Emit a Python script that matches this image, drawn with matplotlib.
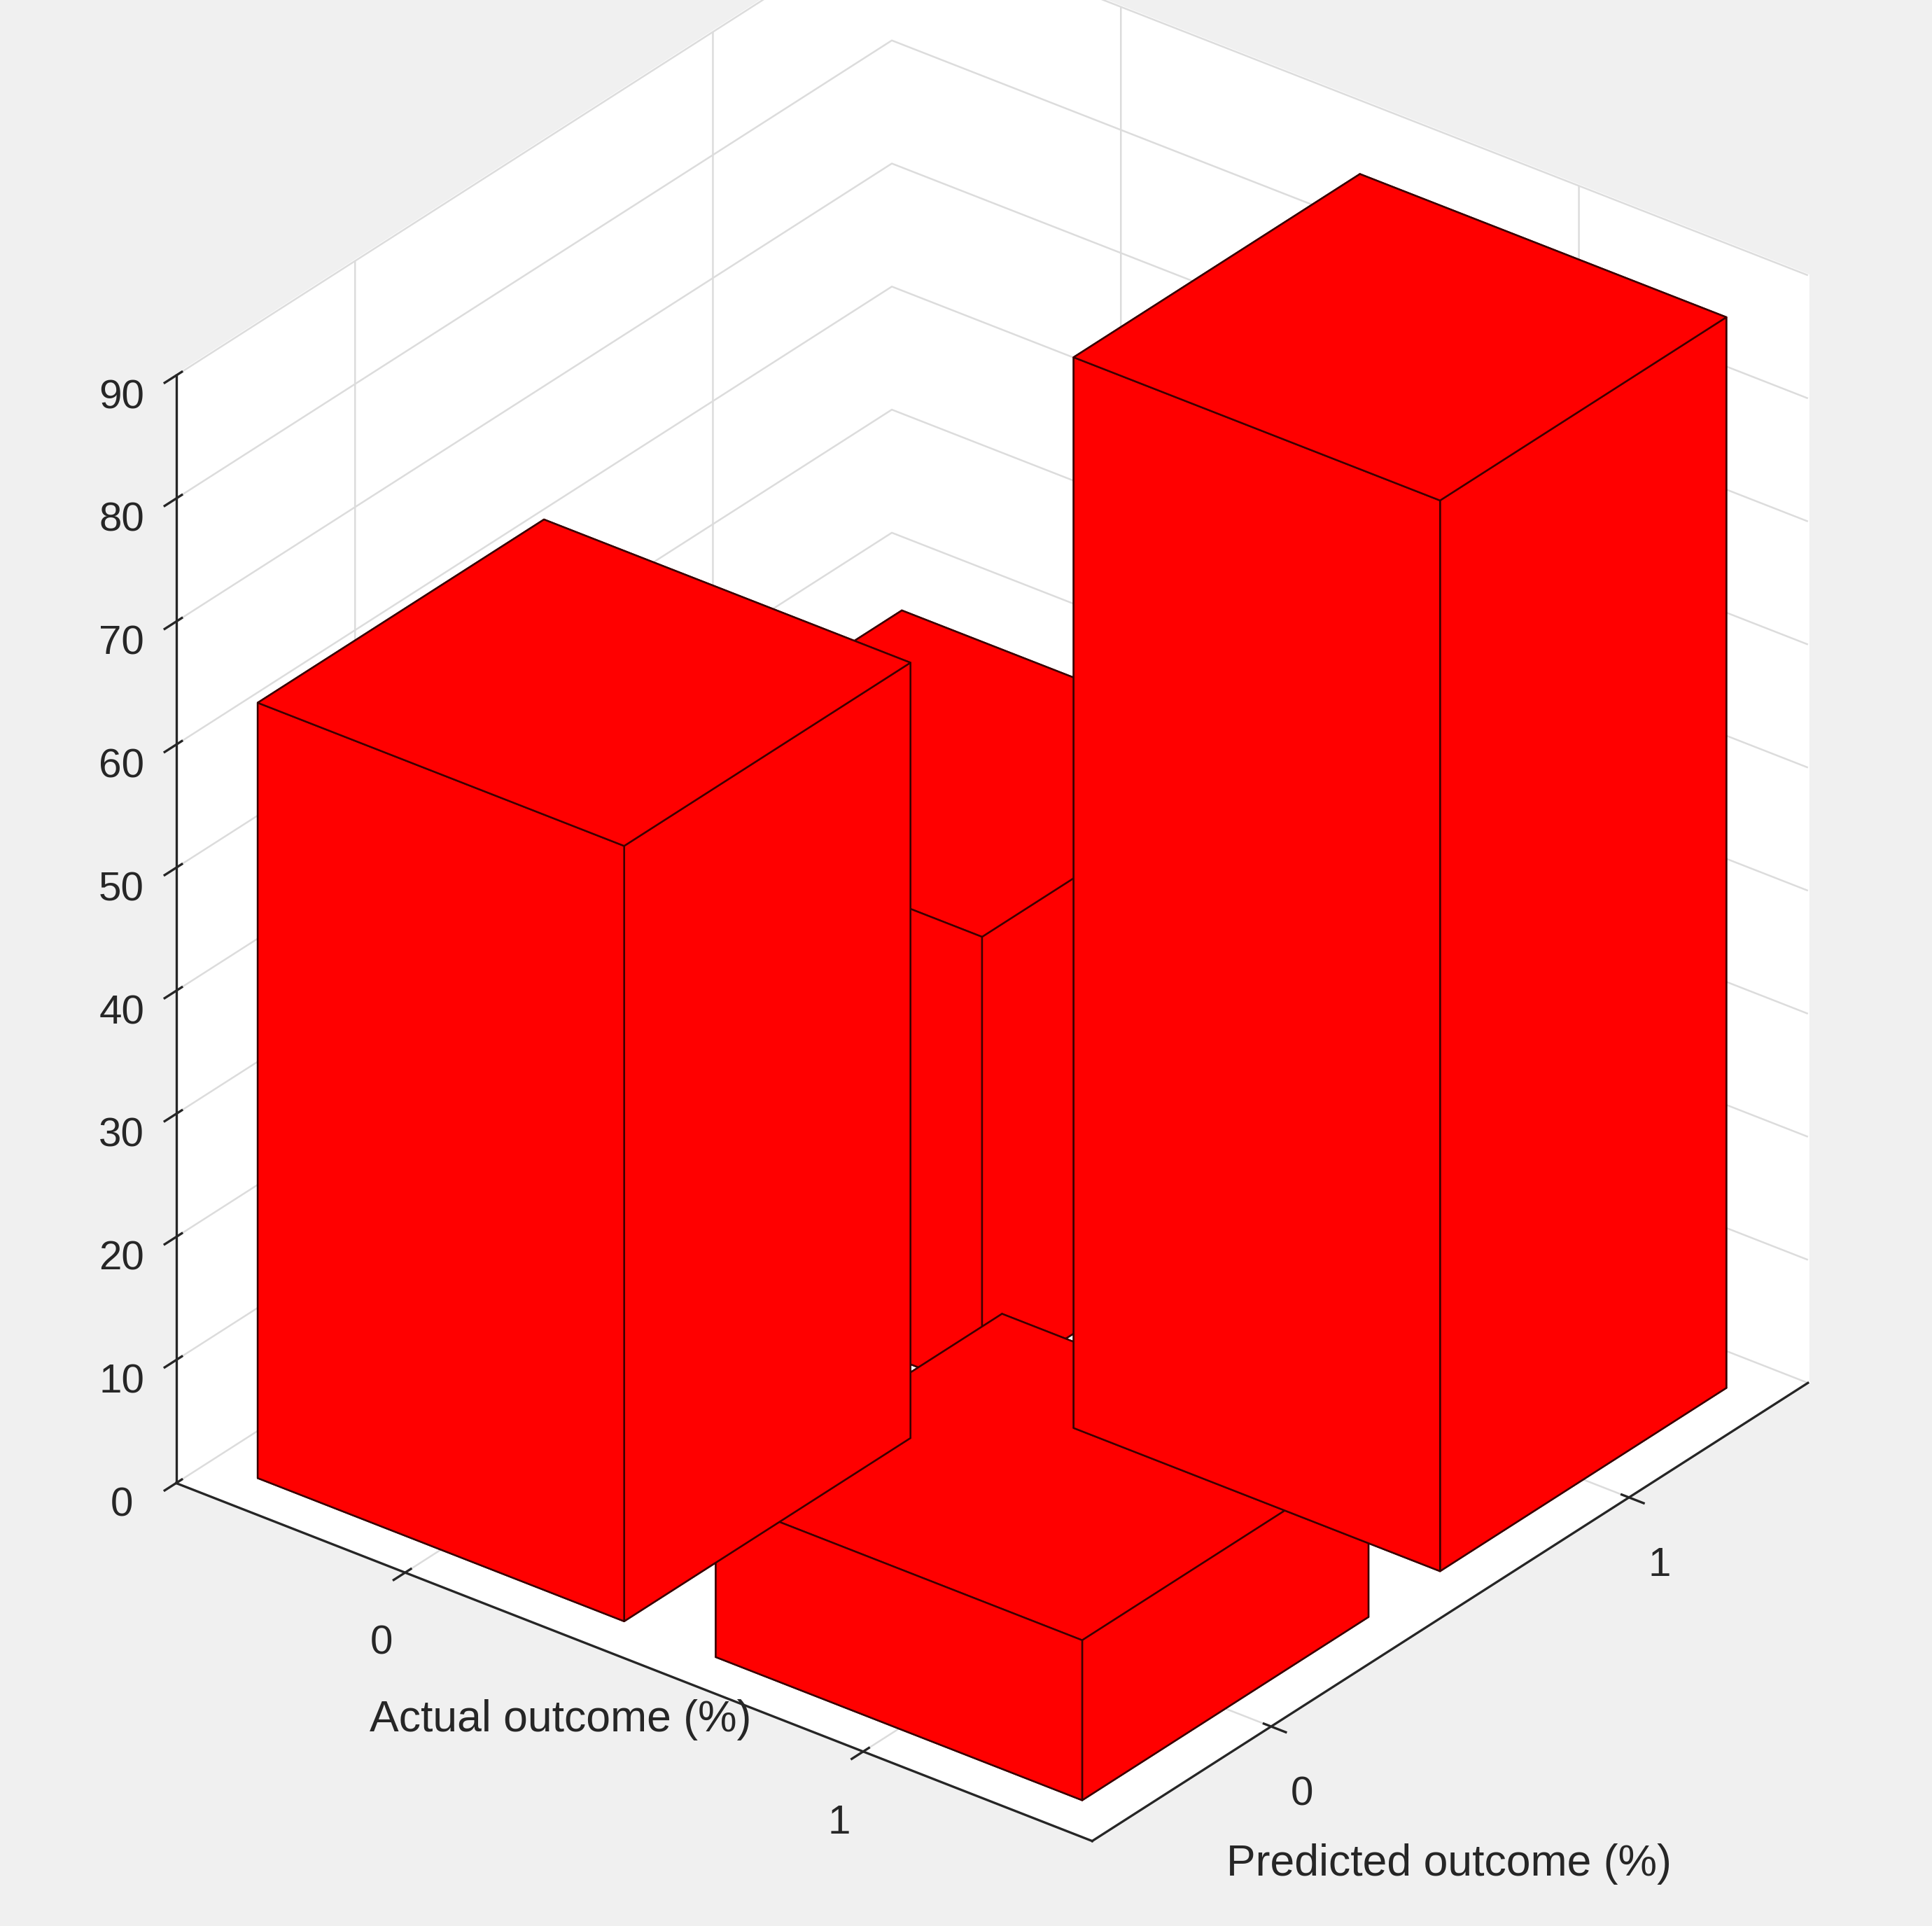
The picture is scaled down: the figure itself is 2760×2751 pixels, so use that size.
import matplotlib
matplotlib.use("Agg")
import matplotlib.pyplot as plt
import numpy as np

actual = [0, 1]
predicted = [0, 1]
# values[actual][predicted]
values = [[63, 37], [13, 87]]
zticks = list(range(0, 100, 10))

plt.rcParams['font.family'] = ['Liberation Sans', 'DejaVu Sans']
fig = plt.figure(figsize=(9.2, 9.17), dpi=300, facecolor='#f0f0f0')
ax = fig.add_axes([0.0, 0.03, 1.0, 1.0], projection='3d')
ax.set_proj_type('ortho')
ax.set_facecolor('#f0f0f0')
w = 0.8
for i, a in enumerate(actual):
    for j, p in enumerate(predicted):
        ax.bar3d(p - w/2, a - w/2, 0, w, w, values[i][j], color='#ff0000',
                 edgecolor='#3a0000', linewidth=0.6, shade=False)
ax.set_xlim(-0.5, 1.5)
ax.set_ylim(-0.5, 1.5)
ax.set_zlim(0, 90)
ax.set_xticks(predicted)
ax.set_yticks(actual)
ax.set_zticks(zticks)
ax.tick_params(labelsize=14, colors='#262626')
for axis in (ax.xaxis, ax.yaxis, ax.zaxis):
    axis.set_pane_color((1, 1, 1, 1))
    axis._axinfo['grid']['color'] = '#dcdcdc'
    axis._axinfo['grid']['linewidth'] = 0.6
    axis.line.set_color('#262626')
ax.view_init(elev=30, azim=-142)
ax.invert_yaxis()
ax.set_box_aspect((1, 1, 1.1), zoom=1.05)
fig.text(0.29, 0.107, 'Actual outcome (%)', fontsize=15, ha='center', va='center', color='#262626')
fig.text(0.75, 0.032, 'Predicted outcome (%)', fontsize=15, ha='center', va='center', color='#262626')
fig.savefig('out.png', dpi=300, facecolor=fig.get_facecolor())
